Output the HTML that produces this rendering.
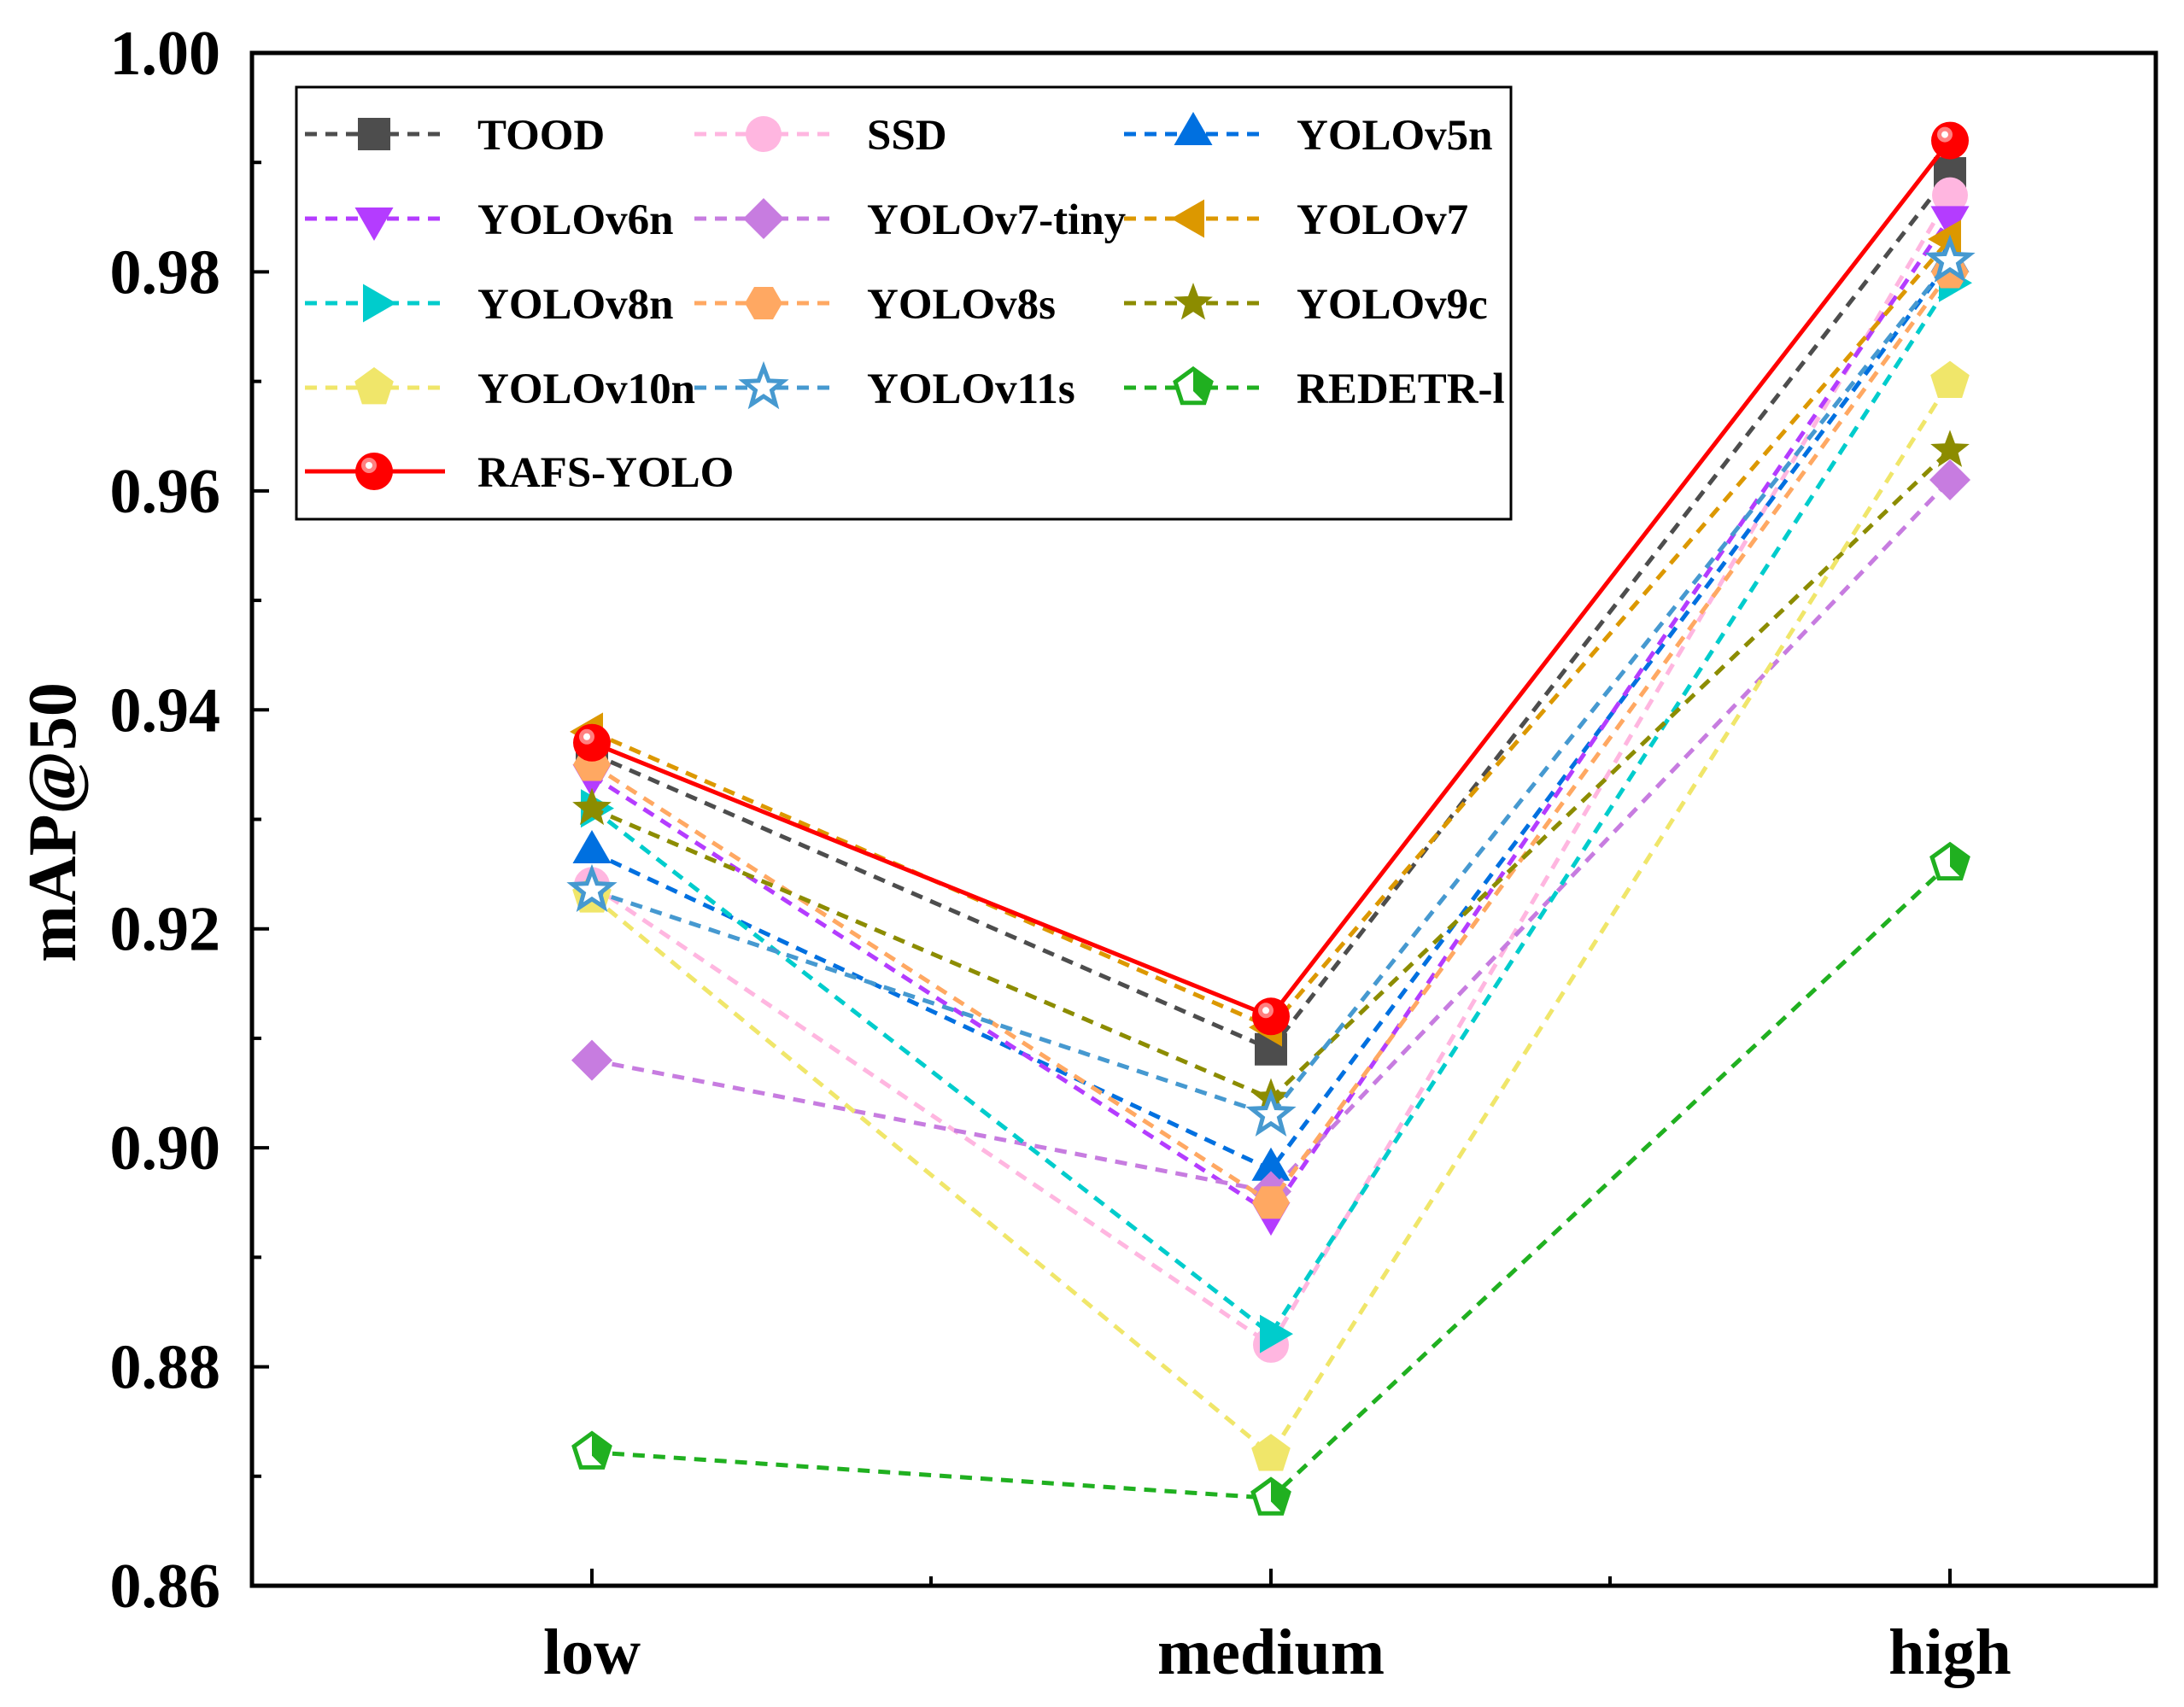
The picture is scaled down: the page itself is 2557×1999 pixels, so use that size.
<!DOCTYPE html>
<html><head><meta charset="utf-8"><style>
html,body{margin:0;padding:0;background:#fff;}
svg{display:block;font-family:"Liberation Serif",serif;font-weight:bold;}
</style></head><body>
<svg id="chart" width="2557" height="1999" viewBox="0 0 2557 1999" xmlns="http://www.w3.org/2000/svg"></svg>
<script>
const categories = ["low","medium","high"];
const seriesNames = ["TOOD","SSD","YOLOv5n","YOLOv6n","YOLOv7-tiny","YOLOv7","YOLOv8n","YOLOv8s","YOLOv9c","YOLOv10n","YOLOv11s","REDETR-l","RAFS-YOLO"];
const toodVals = [0.936,0.909,0.989];
const ssdVals = [0.924,0.882,0.987];
const yolov5nVals = [0.927,0.898,0.981];
const yolov6nVals = [0.934,0.894,0.985];
const yolov7tinyVals = [0.908,0.896,0.961];
const yolov7Vals = [0.938,0.911,0.983];
const yolov8nVals = [0.931,0.883,0.979];
const yolov8sVals = [0.935,0.895,0.980];
const yolov9cVals = [0.931,0.9045,0.9637];
const yolov10nVals = [0.923,0.872,0.970];
const yolov11sVals = [0.9235,0.903,0.981];
const redetrVals = [0.8722,0.868,0.926];
const rafsVals = [0.937,0.912,0.992];
const yTicks = ["0.86","0.88","0.90","0.92","0.94","0.96","0.98","1.00"];

const allVals=[toodVals,ssdVals,yolov5nVals,yolov6nVals,yolov7tinyVals,yolov7Vals,yolov8nVals,yolov8sVals,yolov9cVals,yolov10nVals,yolov11sVals,redetrVals,rafsVals];
const colors=["#4d4d4d","#ffb6e0","#0070e0","#b43cff","#c77ce0","#dc9800","#00cccc","#ffa862","#8c8c00","#f0e66a","#4699d0","#20b020","#ff0000"];
const markers=["square","circle","tri-up","tri-down","diamond","tri-left","tri-right","hexagon","star","pentagon","star-open","pentagon-open","ball"];

const L=295,R=2524,T=62,B=1857,yMin=0.86,yMax=1.00;
const x=i=>693+i*795;
const y=v=>B-(v-yMin)/(yMax-yMin)*(B-T);
const NS="http://www.w3.org/2000/svg";
const svg=document.getElementById('chart');
function mk(tag,attrs,parent){const e=document.createElementNS(NS,tag);for(const k in attrs)e.setAttribute(k,attrs[k]);(parent||svg).appendChild(e);return e;}

const frame=mk('rect',{x:L,y:T,width:R-L,height:B-T,fill:'none',stroke:'#000','stroke-width':5});


yTicks.forEach((t,i)=>{
  const v=parseFloat(t);const yy=y(v);
  const tk=mk('line',{x1:L,x2:L+20,y1:yy,y2:yy,stroke:'#000','stroke-width':4});
  
  
  if(i<yTicks.length-1){const ym=y(v+0.01);mk('line',{x1:L,x2:L+11,y1:ym,y2:ym,stroke:'#000','stroke-width':4});}
  const tx=mk('text',{x:258,y:yy+25,'text-anchor':'end','font-size':74});
  tx.textContent=t;
  
  
});
categories.forEach((c,i)=>{
  const xx=x(i);
  mk('line',{x1:xx,x2:xx,y1:B,y2:B-20,stroke:'#000','stroke-width':4});
  if(i<categories.length-1){mk('line',{x1:xx+397,x2:xx+397,y1:B,y2:B-11,stroke:'#000','stroke-width':4});}
  const tx=mk('text',{x:xx,y:1960,'text-anchor':'middle','font-size':76});
  tx.textContent=c;
  
  
});
const yt=mk('text',{x:0,y:0,'text-anchor':'middle','font-size':80,transform:'translate(88,963) rotate(-90)'});
yt.textContent='mAP@50';



function marker(type,cx,cy,col,g){
  const r=24;
  const poly=(pts)=>mk('polygon',{points:pts.map(p=>p.join(',')).join(' '),fill:col},g);
  const reg=(n,rot,rr)=>{const p=[];for(let k=0;k<n;k++){const a=rot+k*2*Math.PI/n;p.push([cx+rr*Math.cos(a),cy+rr*Math.sin(a)]);}return p;};
  const star=()=>{const p=[];for(let k=0;k<10;k++){const a=-Math.PI/2+k*Math.PI/5;const rr=k%2?r*0.42:r;p.push([cx+rr*Math.cos(a),cy+rr*Math.sin(a)]);}return p;};
  switch(type){
    case 'square':mk('rect',{x:cx-19,y:cy-19,width:38,height:38,fill:col},g);break;
    case 'circle':mk('circle',{cx,cy,r:21,fill:col},g);break;
    case 'tri-up':poly(reg(3,-Math.PI/2,r+2));break;
    case 'tri-down':poly(reg(3,Math.PI/2,r+2));break;
    case 'tri-left':poly(reg(3,Math.PI,r+2));break;
    case 'tri-right':poly(reg(3,0,r+2));break;
    case 'diamond':poly(reg(4,0,r));break;
    case 'hexagon':poly(reg(6,0,r-2));break;
    case 'pentagon':poly(reg(5,-Math.PI/2,r));break;
    case 'star':poly(star());break;
    case 'star-open':{const e=poly(star());e.setAttribute('fill','#fff');e.setAttribute('stroke',col);e.setAttribute('stroke-width',5);break;}
    case 'pentagon-open':{const e=poly(reg(5,-Math.PI/2,r-2));e.setAttribute('fill','#fff');e.setAttribute('stroke',col);e.setAttribute('stroke-width',5);
      mk('polygon',{points:`${cx},${cy-r+2} ${cx+r-4},${cy-6} ${cx+14},${cy+r-6} ${cx},${cy+4}`,fill:col},g);break;}
    case 'ball':mk('circle',{cx,cy,r:22,fill:col},g);mk('circle',{cx:cx-6,cy:cy-7,r:9,fill:'#ff8080'},g);mk('circle',{cx:cx-6,cy:cy-7,r:4,fill:'#fff'},g);break;
  }
}

allVals.forEach((vals,s)=>{
  const g=mk('g',{});
  
  
  const pts=vals.map((v,i)=>x(i)+','+y(v)).join(' ');
  mk('polyline',{points:pts,fill:'none',stroke:colors[s],'stroke-width':5,'stroke-dasharray':s===12?'none':'14,10'},g);
  vals.forEach((v,i)=>marker(markers[s],x(i),y(v),colors[s],g));
});

const lg=mk('g',{});


mk('rect',{x:347,y:102,width:1422,height:506,fill:'#fff',stroke:'#000','stroke-width':3},lg);
const colX=[357,813,1316],rowY=[157,256,355,454,552];
seriesNames.forEach((n,s)=>{
  const c=s%3,r=Math.floor(s/3);
  const ent=mk('g',{},lg);
  
  
  const x0=colX[c],yy=rowY[r];
  mk('line',{x1:x0,x2:x0+164,y1:yy,y2:yy,stroke:colors[s],'stroke-width':5,'stroke-dasharray':s===12?'none':'14,10'},ent);
  marker(markers[s],x0+81,yy,colors[s],ent);
  const t=mk('text',{x:x0+202,y:yy+18,'font-size':51},ent);
  t.textContent=n;
});
</script>
</body></html>
